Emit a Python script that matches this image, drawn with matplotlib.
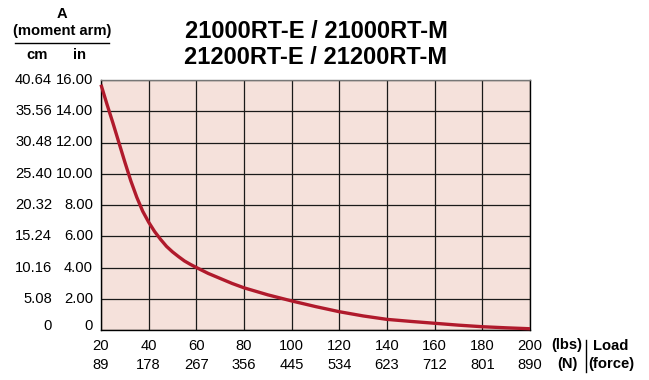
import matplotlib
matplotlib.use("Agg")
import matplotlib.pyplot as plt
import numpy as np

plt.rcParams['font.family'] = ['Liberation Sans', 'DejaVu Sans']

# Data
load_lbs = [20, 22.5, 25, 27.5, 30, 32.5, 35, 37.5, 40, 42.5, 45, 47.5, 50, 52.5, 55, 57.5, 60, 65, 70, 75, 80, 90,
            100, 110, 120, 130, 140, 150, 160, 170, 180, 190, 200]
arm_in = [15.7, 14.45, 13.25, 12.0, 10.75, 9.55, 8.5, 7.6, 6.9, 6.3, 5.8, 5.35, 5.0, 4.7, 4.42, 4.2, 4.0, 3.62, 3.3,
          2.98, 2.7, 2.25, 1.86, 1.5, 1.17, 0.9, 0.68, 0.55, 0.43, 0.31, 0.21, 0.14, 0.08]

x_ticks_lbs = [20, 40, 60, 80, 100, 120, 140, 160, 180, 200]
x_labels_n = ["89", "178", "267", "356", "445", "534", "623", "712", "801", "890"]
y_ticks_in = [0, 2, 4, 6, 8, 10, 12, 14, 16]
y_labels_in = ["0", "2.00", "4.00", "6.00", "8.00", "10.00", "12.00", "14.00", "16.00"]
y_labels_cm = ["0", "5.08", "10.16", "15.24", "20.32", "25.40", "30.48", "35.56", "40.64"]
title_lines = ["21000RT-E / 21000RT-M", "21200RT-E / 21200RT-M"]

W, H = 649, 380
fig = plt.figure(figsize=(W / 100, H / 100), dpi=100)
ax = fig.add_axes([101 / W, 1 - 330 / H, (530 - 101) / W, (330 - 80) / H])
ax.set_facecolor('#f5e1db')
ax.set_xlim(20, 200)
ax.set_ylim(0, 16)
ax.set_xticks(x_ticks_lbs)
ax.set_yticks(y_ticks_in)
ax.grid(True, color='#1a1a1a', linewidth=0.9)
ax.set_axisbelow(True)
ax.tick_params(length=0, labelbottom=False, labelleft=False)
for s in ['left', 'bottom', 'right']:
    ax.spines[s].set_color('black')
    ax.spines[s].set_linewidth(1.0)
ax.spines['top'].set_color('#777777')
ax.spines['top'].set_linewidth(1.0)

ax.plot(load_lbs, arm_in, color='#b01a2c', linewidth=2.4, solid_capstyle='butt',
        solid_joinstyle='round', zorder=3, clip_on=False)

def px(x, y):
    return x / W, 1 - y / H

fs = 10.6
# y tick labels (two columns)
for v, lin, lcm in zip(y_ticks_in, y_labels_in, y_labels_cm):
    yp = 330 - v * 250 / 16
    if v == 0:
        yp -= 4
    fig.text(*px(93, yp), lin, ha='right', va='center', fontsize=fs)
    fig.text(*px(52, yp), lcm, ha='right', va='center', fontsize=fs)

# x tick labels (two rows)
for v, ln in zip(x_ticks_lbs, x_labels_n):
    xp = 101 + (v - 20) * (530 - 101) / 180
    fig.text(*px(xp, 346), str(v), ha='center', va='center', fontsize=fs)
    fig.text(*px(xp, 365), ln, ha='center', va='center', fontsize=fs)

fig.text(*px(567, 345), "(lbs)", ha='center', va='center', fontsize=fs, fontweight='bold')
fig.text(*px(567, 364), "(N)", ha='center', va='center', fontsize=fs, fontweight='bold')
fig.text(*px(611, 346), "Load", ha='center', va='center', fontsize=fs, fontweight='bold')
fig.text(*px(611, 364), "(force)", ha='center', va='center', fontsize=fs, fontweight='bold')
fig.add_artist(plt.Line2D([586 / W, 586 / W], [1 - 340 / H, 1 - 372 / H], color='black', linewidth=1.0))

# y header
fig.text(*px(62, 14), "A", ha='center', va='center', fontsize=fs, fontweight='bold')
fig.text(*px(62, 31), "(moment arm)", ha='center', va='center', fontsize=fs, fontweight='bold')
fig.add_artist(plt.Line2D([15 / W, 109 / W], [1 - 43 / H, 1 - 43 / H], color='black', linewidth=1.0))
fig.text(*px(37, 55), "cm", ha='center', va='center', fontsize=fs, fontweight='bold')
fig.text(*px(80, 55), "in", ha='center', va='center', fontsize=fs, fontweight='bold')

# title
fig.text(*px(316, 31), title_lines[0], ha='center', va='center', fontsize=17, fontweight='bold')
fig.text(*px(316, 57), title_lines[1], ha='center', va='center', fontsize=17, fontweight='bold')

fig.savefig('out.png', dpi=100)
